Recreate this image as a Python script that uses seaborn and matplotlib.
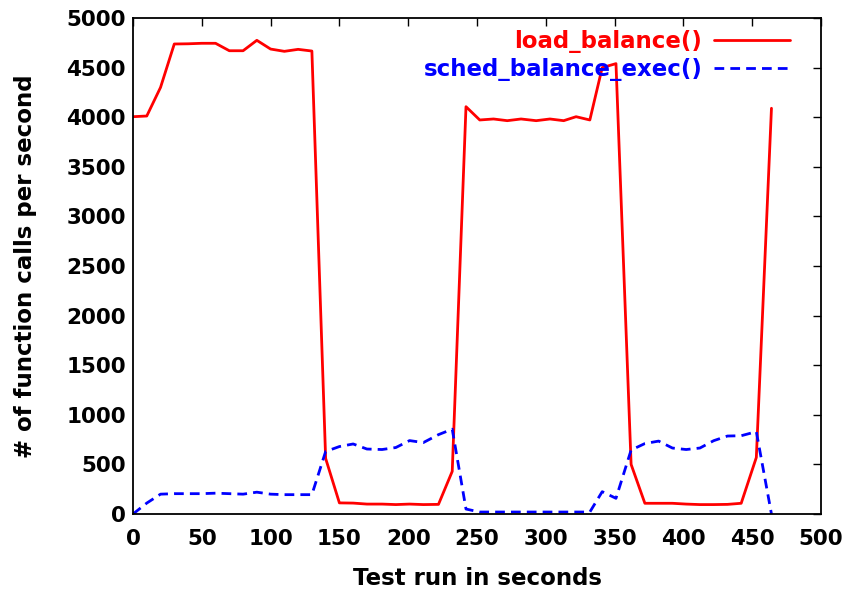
import matplotlib
matplotlib.use("Agg")
import matplotlib.pyplot as plt
import seaborn as sns
import pandas as pd

# Sample times (seconds)
t = [0, 10, 20, 30, 40, 50, 60, 70, 80, 90, 100, 110, 120, 130, 140, 150,
     160, 170, 181, 191, 201, 211, 222, 232,
     242, 252, 262, 272, 282, 293, 303, 313, 322, 332, 341, 351,
     362, 372, 382, 392, 402, 412, 422, 432, 442, 453, 464]

load_balance = [4005, 4012, 4300, 4738, 4740, 4745, 4745, 4670, 4670, 4775,
                4687, 4664, 4684, 4667, 560, 112,
                110, 100, 100, 95, 100, 95, 97, 430,
                4106, 3972, 3982, 3965, 3982, 3965, 3982, 3965, 4005, 3972, 4500, 4540,
                500, 108, 108, 108, 100, 95, 95, 97, 108, 570, 4090]

sched_balance_exec = [0, 110, 200, 205, 205, 205, 210, 205, 200, 220,
                      200, 195, 195, 195, 630, 680,
                      706, 655, 650, 670, 740, 720, 800, 855,
                      50, 20, 20, 20, 20, 20, 20, 20, 20, 20, 225, 158,
                      645, 710, 735, 665, 650, 665, 739, 786, 789, 830, 0]

labels = ["load_balance()", "sched_balance_exec()"]
colors = ["#ff0000", "#0000ff"]
x_ticks = list(range(0, 501, 50))
y_ticks = list(range(0, 5001, 500))

df = pd.DataFrame({"t": t, "lb": load_balance, "sbe": sched_balance_exec})

sns.set_style("white")
plt.rcParams['font.family'] = ['DejaVu Sans']
plt.rcParams['font.weight'] = 'bold'

FS = 15.5
LFS = 16.5
DASH = (0, (3.5, 2.2))

fig = plt.figure(figsize=(8.47, 5.97), dpi=100)
ax = fig.add_axes([133/847, 1 - 514/597, (821-133)/847, (514-18)/597])

sns.lineplot(data=df, x="t", y="lb", ax=ax, color=colors[0], lw=2.0,
             label=labels[0])
sns.lineplot(data=df, x="t", y="sbe", ax=ax, color=colors[1], lw=2.0,
             label=labels[1])
ax.lines[1].set_linestyle(DASH)

ax.set_xlim(0, 500)
ax.set_ylim(0, 5000)
ax.set_xticks(x_ticks)
ax.set_yticks(y_ticks)
ax.tick_params(direction='in', length=6, width=1, top=True, right=True,
               labelsize=FS, colors='black')
ax.tick_params(axis='x', pad=11)
ax.tick_params(axis='y', pad=5)
for lab in ax.get_xticklabels() + ax.get_yticklabels():
    lab.set_fontweight('bold')
for s in ax.spines.values():
    s.set_color('black')
    s.set_linewidth(1.3)

ax.set_xlabel("Test run in seconds", fontsize=LFS, fontweight='bold', color='black')
ax.set_ylabel("# of function calls per second", fontsize=LFS, fontweight='bold',
              color='black')
ax.xaxis.set_label_coords(0.5, -0.106)
ax.yaxis.set_label_coords(-0.139, 0.5)

leg = ax.legend(loc='upper right', bbox_to_anchor=(0.968, 0.995),
                borderaxespad=0.0, frameon=False, markerfirst=False,
                handlelength=3.3, handletextpad=0.52,
                labelspacing=0.22,
                prop={'weight': 'bold', 'size': LFS})
for txt, c in zip(leg.get_texts(), colors):
    txt.set_color(c)
leg.get_lines()[1].set_linestyle(DASH)

fig.savefig("out.png", dpi=100)
